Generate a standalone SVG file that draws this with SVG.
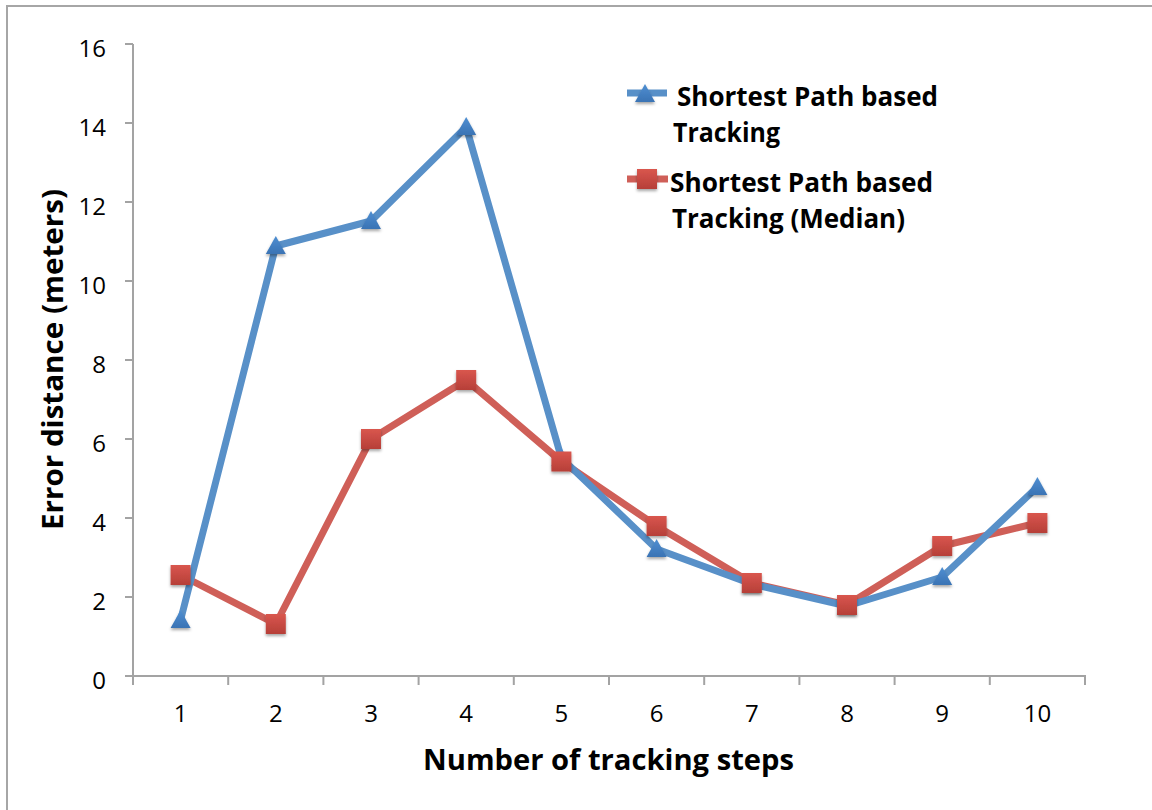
<svg xmlns="http://www.w3.org/2000/svg" xmlns:xlink="http://www.w3.org/1999/xlink" width="1152" height="810" viewBox="0 0 1152 810">
  <style>
    .axis { stroke: #a3a3a3; stroke-width: 2; fill: none; }
    .tick { font-family: "Open Sans", "Liberation Sans", sans-serif; font-size: 24px; fill: #000; }
    .title { font-family: "Open Sans", "Liberation Sans", sans-serif; font-size: 29px; font-weight: bold; fill: #000; }
    .leg { font-family: "Open Sans", "Liberation Sans", sans-serif; font-size: 26px; font-weight: bold; fill: #000; }
    .blueLine { stroke: #5890c8; stroke-width: 7; fill: none; stroke-linejoin: round; }
    .redLine { stroke: #cf5f58; stroke-width: 7; fill: none; stroke-linejoin: round; }
  </style>
  <defs>
    <linearGradient id="gBlue" x1="0" y1="0" x2="0" y2="1">
      <stop offset="0" stop-color="#4f8fd2"/>
      <stop offset="1" stop-color="#3a73b4"/>
    </linearGradient>
    <linearGradient id="gRed" x1="0" y1="0" x2="0" y2="1">
      <stop offset="0" stop-color="#d9564e"/>
      <stop offset="1" stop-color="#b63f38"/>
    </linearGradient>
    <filter id="shadow" x="-50%" y="-50%" width="200%" height="200%">
      <feDropShadow dx="0" dy="2" stdDeviation="1.5" flood-color="#000" flood-opacity="0.35"/>
    </filter>
    <path id="tri" d="M0,-10 L10,8 L-10,8 Z" fill="url(#gBlue)" filter="url(#shadow)"/>
    <rect id="sq" x="-10" y="-10" width="20" height="20" fill="url(#gRed)" filter="url(#shadow)"/>
  </defs>

  <rect x="0" y="0" width="1152" height="810" fill="#ffffff"/>
  <rect id="frame" x="7" y="6" width="1160" height="820" fill="none" stroke="#a6a6a6" stroke-width="2"/>

  <g id="y-axis">
    <line class="axis" x1="133" y1="44" x2="133" y2="685"/>
    <path class="axis" d="M125,44H133M125,123H133M125,202H133M125,281H133M125,360H133M125,439H133M125,518H133M125,597H133M125,676H133"/>
    <g class="tick" text-anchor="end">
      <text x="106" y="57">16</text>
      <text x="106" y="136">14</text>
      <text x="106" y="215">12</text>
      <text x="106" y="294">10</text>
      <text x="106" y="373">8</text>
      <text x="106" y="452">6</text>
      <text x="106" y="531">4</text>
      <text x="106" y="610">2</text>
      <text x="106" y="689">0</text>
    </g>
    <text class="title" transform="translate(63,359.5) rotate(-90)" x="0" y="0" text-anchor="middle" textLength="341" lengthAdjust="spacingAndGlyphs">Error distance (meters)</text>
  </g>

  <g id="x-axis">
    <line class="axis" x1="132" y1="676" x2="1086" y2="676"/>
    <path class="axis" d="M228.2,676V685M323.4,676V685M418.6,676V685M513.8,676V685M609,676V685M704.2,676V685M799.4,676V685M894.6,676V685M989.8,676V685M1085,676V685"/>
    <g class="tick" text-anchor="middle">
      <text x="180.6" y="722">1</text>
      <text x="275.8" y="722">2</text>
      <text x="371" y="722">3</text>
      <text x="466.2" y="722">4</text>
      <text x="561.4" y="722">5</text>
      <text x="656.6" y="722">6</text>
      <text x="751.8" y="722">7</text>
      <text x="847" y="722">8</text>
      <text x="942.2" y="722">9</text>
      <text x="1037.4" y="722">10</text>
    </g>
    <text class="title" x="608.5" y="770" text-anchor="middle" textLength="371" lengthAdjust="spacingAndGlyphs">Number of tracking steps</text>
  </g>

  <g id="connectors">
    <polyline class="redLine" points="180.6,575 275.8,624 371,439 466.2,380 561.4,461.5 656.6,526 751.8,583 847,605 942.2,546 1037.4,523"/>
    <polyline class="blueLine" points="180.6,620 275.8,246 371,221 466.2,127 561.4,458 656.6,549 751.8,584 847,606 942.2,577 1037.4,487"/>
  </g>

  <g id="series-blue-markers">
    <use xlink:href="#tri" x="180.6" y="620"/>
    <use xlink:href="#tri" x="275.8" y="246"/>
    <use xlink:href="#tri" x="371" y="221"/>
    <use xlink:href="#tri" x="466.2" y="127"/>
    <use xlink:href="#tri" x="561.4" y="458"/>
    <use xlink:href="#tri" x="656.6" y="549"/>
    <use xlink:href="#tri" x="751.8" y="584"/>
    <use xlink:href="#tri" x="847" y="606"/>
    <use xlink:href="#tri" x="942.2" y="577"/>
    <use xlink:href="#tri" x="1037.4" y="487"/>
  </g>

  <g id="series-red-markers">
    <use xlink:href="#sq" x="180.6" y="575"/>
    <use xlink:href="#sq" x="275.8" y="624"/>
    <use xlink:href="#sq" x="371" y="439"/>
    <use xlink:href="#sq" x="466.2" y="380"/>
    <use xlink:href="#sq" x="561.4" y="461.5"/>
    <use xlink:href="#sq" x="656.6" y="526"/>
    <use xlink:href="#sq" x="751.8" y="583"/>
    <use xlink:href="#sq" x="847" y="605"/>
    <use xlink:href="#sq" x="942.2" y="546"/>
    <use xlink:href="#sq" x="1037.4" y="523"/>
  </g>

  <g id="legend-blue">
    <line class="blueLine" x1="627" y1="93" x2="667" y2="93"/>
    <use xlink:href="#tri" x="645" y="94"/>
    <text class="leg" x="677" y="106" textLength="261" lengthAdjust="spacingAndGlyphs">Shortest Path based</text>
    <text class="leg" x="673" y="142" textLength="107" lengthAdjust="spacingAndGlyphs">Tracking</text>
  </g>

  <g id="legend-red">
    <line class="redLine" x1="627" y1="179" x2="668" y2="179"/>
    <use xlink:href="#sq" x="647" y="179"/>
    <text class="leg" x="670" y="192" textLength="263" lengthAdjust="spacingAndGlyphs">Shortest Path based</text>
    <text class="leg" x="672" y="228" textLength="233" lengthAdjust="spacingAndGlyphs">Tracking (Median)</text>
  </g>
</svg>
